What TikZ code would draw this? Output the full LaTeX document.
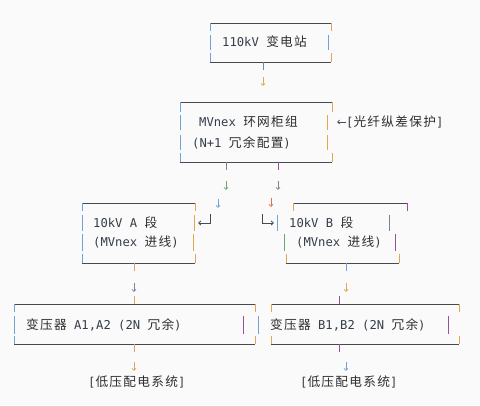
\documentclass[tikz,border=0pt]{standalone}
\usepackage{fontspec}
\setmainfont{DejaVu Sans Mono}
\newfontfamily\cjkf[LetterSpace=10,Scale=1.04]{Noto Sans CJK SC}
\usetikzlibrary{arrows.meta,calc}
\definecolor{bg}{HTML}{FAFAFA}
\definecolor{lgray}{HTML}{464B53}
\definecolor{txt}{HTML}{353D4A}
\definecolor{txtzh}{HTML}{2E2E2E}
\definecolor{cblue}{HTML}{6FA3D8}
\definecolor{corange}{HTML}{E2A650}
\definecolor{cpurple}{HTML}{9A4E9E}
\definecolor{cgreen}{HTML}{6AA870}
\definecolor{cred}{HTML}{E0704C}
\definecolor{cgray}{HTML}{7C8494}
\newcommand\zh[1]{{\cjkf\color{txtzh}#1}}
\tikzset{
  hl/.style={draw=lgray, line width=1pt},
  vs/.style={line width=1pt},
  arr/.style={line width=0.7pt, -{Straight Barb[length=2.2pt,width=4pt]}},
  txtnode/.style={anchor=west, inner sep=0pt, text=txt, font=\fontsize{12.2}{14}\selectfont},
  boxarea/.style={draw=none, inner sep=0pt}
}
\begin{document}
\begin{tikzpicture}[x=1pt,y=-1pt]
\fill[bg] (0,0) rectangle (480,405);
\useasboundingbox (0,0) rectangle (480,405);

% ---------- box 1 ----------
\node[boxarea, minimum width=121pt, minimum height=39pt] (b1) at (263,42.5) {};
\draw[hl] (210,23) -- (331,23);
\draw[hl] (210,62) -- (331,62);
\draw[vs,cblue] (210,23) -- (210,31) (210,35) -- (210,50) (210,53) -- (210,62);
\draw[vs,corange] (331,23) -- (331,31) (331,53) -- (331,62);
\draw[vs,cblue] (328,35) -- (328,50);
\node[txtnode] (t1) at (222,42) {110kV \zh{变电站}};

% ---------- box 2 ----------
\node[boxarea, minimum width=152pt, minimum height=60pt] (b2) at (256,132) {};
\draw[hl] (180,102) -- (332,102);
\draw[hl] (180,162) -- (332,162);
\draw[vs,cblue] (180,102) -- (180,112) (180,115) -- (180,130) (180,135) -- (180,150) (180,153) -- (180,162);
\draw[vs,corange] (332,102) -- (332,112) (327,115) -- (327,130) (327,135) -- (327,150) (332,153) -- (332,162);
\node[txtnode] (t2a) at (199,122) {MVnex \zh{环网柜组}};
\node[txtnode] (t2b) at (192,143) {(N+1 \zh{冗余配置})};
\node[txtnode] (lbl) at (346,122) {[\zh{光纤纵差保护}]};
\draw[arr, lgray] (lbl.west) -- ++(-9,0);

% ---------- box A ----------
\node[boxarea, minimum width=113pt, minimum height=60pt] (bA) at (138.5,233) {};
\draw[hl] (82,203) -- (195,203);
\draw[hl] (82,263) -- (195,263);
\draw[vs,cblue] (82,203) -- (82,211) (82,215) -- (82,231) (82,234) -- (82,251) (82,254) -- (82,263);
\draw[vs,corange] (195,203) -- (195,211) (194,215) -- (194,231) (193,234) -- (193,251) (195,254) -- (195,263);
\node[txtnode] (tA1) at (93,223) {10kV A \zh{段}};
\node[txtnode] (tA2) at (93,242) {(MVnex \zh{进线})};

% ---------- box B ----------
\node[boxarea, minimum width=114pt, minimum height=60pt] (bB) at (346,233) {};
\draw[hl] (293,203) -- (407,203);
\draw[hl] (286,263) -- (399,263);
\draw[vs,corange] (293,203) -- (293,211);
\draw[vs,cblue] (277,215) -- (277,231);
\draw[vs,cgreen] (284,234) -- (284,251);
\draw[vs,corange] (286,254) -- (286,263);
\draw[vs,cpurple] (407,203) -- (407,211) (395,234) -- (395,251);
\draw[vs,cgray] (389,215) -- (389,231);
\draw[vs,corange] (399,254) -- (399,263);
\node[txtnode] (tB1) at (289,223) {10kV B \zh{段}};
\node[txtnode] (tB2) at (296,242) {(MVnex \zh{进线})};

% ---------- connectors box2 -> A / B ----------
\coordinate (sA) at (226,162);
\coordinate (sB) at (278,162);
\draw[vs,cgray] (sA) -- ++(0,8);
\draw[vs,cpurple] (sB) -- ++(0,8);
\draw[arr,cgreen] (226,181) -- (226,190);
\draw[arr,cgray] (278,181) -- (278,190);
\draw[arr,cblue] (218,199) -- (218,208);
\draw[arr,cred] (271,198) -- (271,207);
\coordinate (kA) at (210,214);
\coordinate (kB) at (262,214);
\draw[line width=0.8pt, lgray, -{Straight Barb[length=2.2pt,width=4pt]}] (kA) |- (198,223);
\draw[line width=0.8pt, lgray, -{Straight Barb[length=2.2pt,width=4pt]}] (kB) |- (274,223);

% ---------- box A2 ----------
\node[boxarea, minimum width=241pt, minimum height=40pt] (bA2) at (134.5,324) {};
\draw[hl] (14,304) -- (255,304);
\draw[hl] (14,344) -- (255,344);
\draw[vs,cblue] (14,304) -- (14,312) (14,316) -- (14,334) (14,336) -- (14,344);
\draw[vs,corange] (255,304) -- (255,312) (255,336) -- (255,344);
\draw[vs,cpurple] (243,316) -- (243,334);
\node[txtnode] (tA3) at (26,325) {\zh{变压器} A1,A2 (2N \zh{冗余})};

% ---------- box B2 ----------
\node[boxarea, minimum width=188pt, minimum height=40pt] (bB2) at (365,324) {};
\draw[hl] (271,304) -- (459,304);
\draw[hl] (271,344) -- (459,344);
\draw[vs,corange] (271,304) -- (271,312) (271,336) -- (271,344);
\draw[vs,cblue] (258,316) -- (258,334);
\draw[vs,corange] (459,304) -- (459,312) (459,336) -- (459,344);
\draw[vs,cpurple] (448,316) -- (448,334);
\node[txtnode] (tB3) at (270,325) {\zh{变压器} B1,B2 (2N \zh{冗余})};

% ---------- vertical connectors ----------
\draw[vs,cgray] (b1.south) -- ++(0,8);
\draw[arr,corange] (263,77) -- (263,86);

\draw[vs,corange] (134,263) -- (134,271);
\draw[arr,cgray] (134,283) -- (134,292);
\draw[vs,corange] (134,296) -- (134,304);

\draw[vs,cblue] (346,263) -- (346,271);
\draw[arr,corange] (346,283) -- (346,292);
\draw[vs,cpurple] (339,296) -- (339,304);

\draw[vs,corange] (134,344) -- (134,352);
\draw[arr,corange] (134,362) -- (134,371);
\draw[vs,cpurple] (339,344) -- (339,352);
\draw[arr,cblue] (346,362) -- (346,371);

\node[txtnode] (lA) at (88,382) {[\zh{低压配电系统}]};
\node[txtnode] (lB) at (300,382) {[\zh{低压配电系统}]};
\end{tikzpicture}
\end{document}
